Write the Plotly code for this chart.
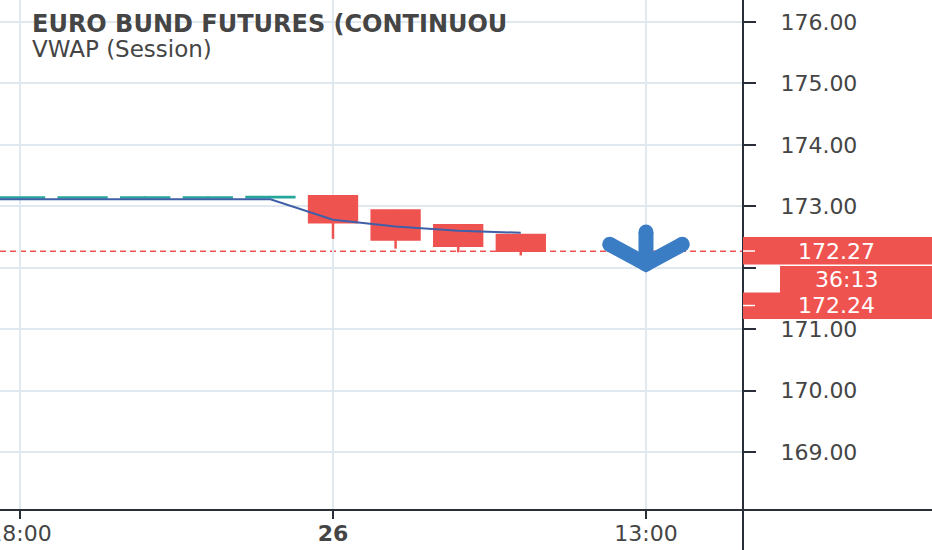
import plotly.graph_objects as go

# ---------------- data ----------------
candle_idx = [0, 1, 2, 3, 4, 5, 6, 7, 8]
open_p = [173.135, 173.135, 173.135, 173.135, 173.14, 173.17, 172.94, 172.70, 172.54]
high_p = [173.15, 173.15, 173.16, 173.16, 173.16, 173.17, 172.94, 172.70, 172.54]
low_p = [173.135, 173.135, 173.135, 173.135, 173.14, 172.47, 172.31, 172.25, 172.20]
close_p = [173.15, 173.15, 173.15, 173.15, 173.16, 172.73, 172.45, 172.35, 172.27]

vwap_idx = [-1, 0, 1, 2, 3, 4, 5, 6, 7, 8]
vwap_val = [173.115, 173.115, 173.115, 173.115, 173.115, 173.115, 172.78, 172.67, 172.60, 172.57]

x_tick_vals = [0, 5, 10]
x_tick_text = ["18:00", "<b>26</b>", "13:00"]
y_tick_vals = [169, 170, 171, 172, 173, 174, 175, 176]
y_tick_text = ["169.00", "170.00", "171.00", "", "173.00", "174.00", "175.00", "176.00"]

last_price = 172.27
second_price = 172.24
countdown = "36:13"
title_text = "EURO BUND FUTURES (CONTINUOU"
study_text = "VWAP (Session)"

# ---------------- styling ----------------
W, H = 932, 550
PR, PB = 743, 510          # plot area right / bottom in px
UP = "#26a69a"
DOWN = "#ef5350"
VWAP_C = "#3f5fa8"
ARROW_C = "#3b7dc4"
GRID = "#e1e9f0"
AX = "#2a2e39"
TXT = "#454545"
FONT = "DejaVu Sans"


def px(xp):
    return xp / PR


def py(yp):
    return (PB - yp) / PB


fig = go.Figure()


def add_candles(up):
    idx = [i for i in range(len(candle_idx)) if (close_p[i] >= open_p[i]) == up]
    col = UP if up else DOWN
    wx, wy = [], []
    for i in idx:
        wx += [candle_idx[i], candle_idx[i], None]
        wy += [low_p[i], high_p[i], None]
    fig.add_trace(go.Scatter(x=wx, y=wy, mode="lines",
                             line=dict(color=col, width=2.5),
                             hoverinfo="skip", showlegend=False))
    fig.add_trace(go.Bar(
        x=[candle_idx[i] for i in idx],
        base=[min(open_p[i], close_p[i]) for i in idx],
        y=[max(abs(close_p[i] - open_p[i]), 0.005) for i in idx],
        width=0.78,
        marker=dict(color=col, line=dict(color=col, width=1.5)),
        showlegend=False))


add_candles(False)

# VWAP line
fig.add_trace(go.Scatter(x=vwap_idx, y=vwap_val, mode="lines",
                         line=dict(color=VWAP_C, width=2),
                         showlegend=False))

add_candles(True)

# blue down arrow at the 13:00 tick
ax = x_tick_vals[2]
arm = 0.58
top_y, tip_y, arm_y = last_price + 0.31, last_price - 0.21, last_price + 0.11
fig.add_trace(go.Scatter(x=[ax, ax], y=[top_y, tip_y], mode="lines+markers",
                         line=dict(color=ARROW_C, width=15),
                         marker=dict(color=ARROW_C, size=15),
                         cliponaxis=False, showlegend=False, hoverinfo="skip"))
fig.add_trace(go.Scatter(x=[ax - arm, ax, ax + arm], y=[arm_y, tip_y, arm_y],
                         mode="lines+markers",
                         line=dict(color=ARROW_C, width=15),
                         marker=dict(color=ARROW_C, size=15),
                         cliponaxis=False, showlegend=False, hoverinfo="skip"))

shapes = [
    dict(type="line", xref="x domain", yref="y", x0=0, x1=1,
         y0=last_price, y1=last_price, layer="below",
         line=dict(color=DOWN, width=1.5, dash="6px,4px")),
    dict(type="line", xref="paper", yref="paper", x0=1, x1=1,
         y0=py(H), y1=1, line=dict(color=AX, width=2)),
    dict(type="line", xref="paper", yref="paper", x0=0, x1=px(W),
         y0=0, y1=0, line=dict(color=AX, width=2)),
    dict(type="rect", xref="paper", yref="paper", x0=1, x1=px(W),
         y0=py(264.5), y1=py(237), fillcolor=DOWN, line=dict(width=0)),
    dict(type="rect", xref="paper", yref="paper", x0=px(780), x1=px(W),
         y0=py(293), y1=py(266), fillcolor=DOWN, line=dict(width=0)),
    dict(type="rect", xref="paper", yref="paper", x0=1, x1=px(W),
         y0=py(319), y1=py(292.5), fillcolor=DOWN, line=dict(width=0)),
    dict(type="line", xref="paper", yref="paper", x0=1, x1=px(755),
         y0=py(251), y1=py(251), line=dict(color="white", width=1.5)),
    dict(type="line", xref="paper", yref="paper", x0=1, x1=px(755),
         y0=py(305.5), y1=py(305.5), line=dict(color="white", width=1.5)),
]

lab_font = dict(family=FONT, size=22, color="white")
annotations = [
    dict(text=f"{last_price:.2f}", xref="paper", yref="paper", x=px(836), y=py(251),
         showarrow=False, font=lab_font, xanchor="center", yanchor="middle"),
    dict(text=countdown, xref="paper", yref="paper", x=px(846), y=py(279.5),
         showarrow=False, font=lab_font, xanchor="center", yanchor="middle"),
    dict(text=f"{second_price:.2f}", xref="paper", yref="paper", x=px(836), y=py(305.5),
         showarrow=False, font=lab_font, xanchor="center", yanchor="middle"),
    dict(text=f"<b>{title_text}</b>", xref="paper", yref="paper", x=px(30), y=py(24),
         showarrow=False, font=dict(family=FONT, size=24, color=TXT),
         xanchor="left", yanchor="middle"),
    dict(text=study_text, xref="paper", yref="paper", x=px(30), y=py(49),
         showarrow=False, font=dict(family=FONT, size=23, color=TXT),
         xanchor="left", yanchor="middle"),
]

fig.update_layout(
    template="none",
    width=W, height=H,
    margin=dict(l=0, r=W - PR, t=0, b=H - PB, pad=0),
    paper_bgcolor="white", plot_bgcolor="white",
    barmode="overlay",
    showlegend=False,
    shapes=shapes,
    annotations=annotations,
    xaxis=dict(range=[-0.32, 11.55], tickvals=x_tick_vals, ticktext=x_tick_text,
               showgrid=True, gridcolor=GRID, gridwidth=1.5, zeroline=False,
               showline=False, ticks="outside", ticklen=8, tickwidth=2,
               tickcolor=AX, tickfont=dict(family=FONT, size=22, color=TXT),
               ticklabeloverflow="allow", ticklabelstandoff=-4,
               automargin=False, fixedrange=True),
    yaxis=dict(side="right", range=[168.056, 176.358], tickvals=y_tick_vals,
               ticktext=y_tick_text, showgrid=True, gridcolor=GRID, gridwidth=1.5,
               zeroline=False, showline=False, ticks="outside", ticklen=12,
               tickwidth=1.5, tickcolor=AX, ticklabelstandoff=20,
               tickfont=dict(family=FONT, size=22, color=TXT),
               automargin=False, fixedrange=True),
)

fig.write_html("out.html", config={"displayModeBar": False},
               post_script="document.body.style.margin='0';")
